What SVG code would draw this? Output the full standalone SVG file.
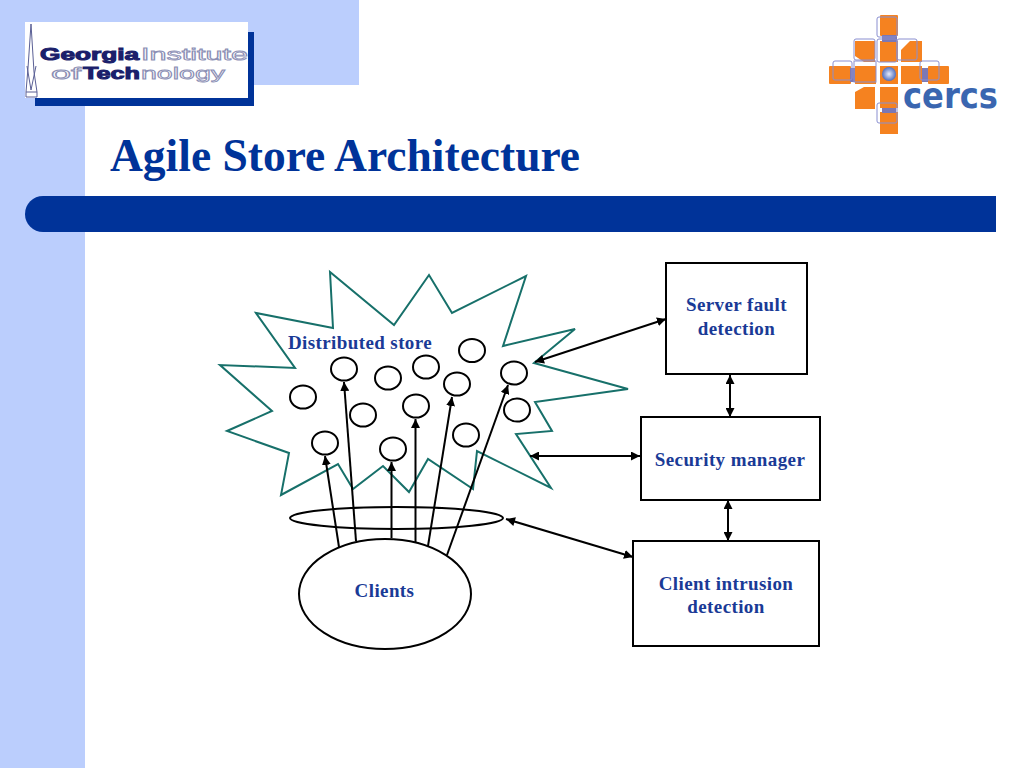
<svg xmlns="http://www.w3.org/2000/svg" width="1024" height="768" viewBox="0 0 1024 768">
<style>
.lbl{font-family:"Liberation Serif","Times New Roman",serif;font-weight:bold;font-size:19px;letter-spacing:.4px;fill:#1a3a96;text-anchor:middle}
.box{fill:#fff;stroke:#000;stroke-width:2}
.node{fill:none;stroke:#000;stroke-width:2}
.conn{stroke:#000;stroke-width:2;fill:none;marker-end:url(#ah)}
.both{marker-start:url(#ahs)}
.gt{font-family:"Liberation Sans",Arial,sans-serif;font-weight:bold;font-size:16.500px}
.solid{fill:#1b1f6b;stroke:#1b1f6b;stroke-width:1}
.hollow{fill:#fff;stroke:#8c8fb5;stroke-width:.8;font-weight:normal}
.or{fill:#f58220}
.ol{fill:none;stroke:#8a8fd0;stroke-width:1}
.mv{fill:#7b78b5}
</style>
<defs>
<marker id="ah" markerUnits="userSpaceOnUse" markerWidth="10" markerHeight="9" refX="9" refY="4.500" orient="auto"><path d="M0 0L9 4.500L0 9Z" fill="#000"/></marker>
<marker id="ahs" markerUnits="userSpaceOnUse" markerWidth="10" markerHeight="9" refX="0" refY="4.500" orient="auto"><path d="M9 0L0 4.500L9 9Z" fill="#000"/></marker>
<radialGradient id="ball"><stop offset="0" stop-color="#e8ecfa"/><stop offset="1" stop-color="#4f6fc0"/></radialGradient>
</defs>
<rect width="1024" height="768" fill="#fff"/>
<g id="background">
<rect x="0" y="0" width="85" height="768" fill="#bbcefd"/>
<rect x="0" y="0" width="359" height="85" fill="#bbcefd"/>
<path d="M996 196H43a18 18 0 0 0 0 36H996Z" fill="#003399"/>
</g>
<g id="gt-logo">
<rect x="35" y="32" width="219" height="74" fill="#003399"/>
<rect x="25" y="22" width="223" height="76" fill="#fff"/>
<path d="M31 24L34 72L37 92H26L28 68ZM26 92V97H37V92" fill="#fff" stroke="#5a5f95" stroke-width="1"/>
<path d="M27 66L31 90L36 66" fill="none" stroke="#5a5f95" stroke-width="1"/>
<text class="gt solid" x="40" y="60" textLength="99" lengthAdjust="spacingAndGlyphs">Georgia</text>
<text class="gt hollow" x="141" y="60" textLength="107" lengthAdjust="spacingAndGlyphs">Institute</text>
<text class="gt hollow" x="51" y="79" textLength="30" lengthAdjust="spacingAndGlyphs">of</text>
<text class="gt solid" x="83" y="79" textLength="57" lengthAdjust="spacingAndGlyphs">Tech</text>
<text class="gt hollow" x="141" y="79" textLength="84" lengthAdjust="spacingAndGlyphs">nology</text>
</g>
<g id="cercs-logo">
<rect class="or" x="880" y="15" width="18" height="21" rx="1"/>
<path class="or" d="M855 41H875V62H864L855 56Z"/>
<rect class="or" x="880" y="41" width="18" height="21"/>
<path class="or" d="M910 41H922V62H901V50Z"/>
<rect class="or" x="829" y="66" width="22" height="18" rx="1"/>
<rect class="or" x="855" y="66" width="21" height="18"/>
<rect class="or" x="880" y="66" width="18" height="18"/>
<rect class="or" x="901" y="66" width="21" height="18"/>
<rect class="or" x="928" y="66" width="21" height="18" rx="1"/>
<path class="or" d="M864 87H875V109H855V92Z"/>
<rect class="or" x="880" y="87" width="18" height="21"/>
<path class="or" d="M880 112H898V134H880Z"/>
<rect class="mv" x="882" y="35" width="15" height="7"/>
<rect class="mv" x="850" y="68" width="5" height="14"/>
<rect class="mv" x="922" y="68" width="6" height="14"/>
<rect class="mv" x="882" y="108" width="14" height="5"/>
<rect class="ol" x="877" y="17" width="20" height="20" rx="2"/>
<rect class="ol" x="854" y="39" width="21" height="21" rx="2"/>
<rect class="ol" x="877" y="39" width="20" height="23" rx="2"/>
<rect class="ol" x="897" y="39" width="20" height="21" rx="2"/>
<rect class="ol" x="833" y="61" width="19" height="19" rx="2"/>
<rect class="ol" x="854" y="61" width="22" height="21"/>
<rect class="ol" x="920" y="61" width="19" height="19" rx="2"/>
<rect class="ol" x="877" y="103" width="20" height="20" rx="2"/>
<circle cx="889" cy="74" r="7" fill="url(#ball)"/>
<text x="903" y="108" textLength="95" lengthAdjust="spacingAndGlyphs" style="font-family:'DejaVu Sans',sans-serif;font-weight:bold;font-size:36px;fill:#3a66b0">cercs</text>
</g>
<text id="title" x="110" y="171" style="font-family:'Liberation Serif','Times New Roman',serif;font-weight:bold;font-size:45.500px;fill:#003399">Agile Store Architecture</text>
<g id="store">
<polygon points="330,272 333,328 256,313 295,368 220,365 272,411 227,431 289,453 281,495 338,464 353,489 383,466 409,492 428,459 473,489 477,451 551,488 516,434 552,431 535,402 628,389 534,363 575,329 503,346 526,276 452,313 429,275 394,325" fill="#fff" stroke="#17706a" stroke-width="2"/>
<text class="lbl" x="360" y="349">Distributed store</text>
</g>
<g id="store-nodes">
<ellipse class="node" cx="344" cy="369" rx="13" ry="11.500"/>
<ellipse class="node" cx="472" cy="350.500" rx="13" ry="11.500"/>
<ellipse class="node" cx="388" cy="378" rx="13" ry="11.500"/>
<ellipse class="node" cx="426" cy="367" rx="13" ry="11.500"/>
<ellipse class="node" cx="457" cy="384" rx="13" ry="11.500"/>
<ellipse class="node" cx="514" cy="373" rx="13" ry="11.500"/>
<ellipse class="node" cx="303" cy="397" rx="13" ry="11.500"/>
<ellipse class="node" cx="363" cy="415" rx="13" ry="11.500"/>
<ellipse class="node" cx="416" cy="406" rx="13" ry="11.500"/>
<ellipse class="node" cx="517" cy="410" rx="13" ry="11.500"/>
<ellipse class="node" cx="466" cy="435" rx="13" ry="11.500"/>
<ellipse class="node" cx="325" cy="443" rx="13" ry="11.500"/>
<ellipse class="node" cx="393" cy="449" rx="13" ry="11.500"/>
</g>
<g id="client-ring"><ellipse class="node" cx="396.500" cy="518" rx="106.500" ry="11"/></g>
<g id="clients">
<ellipse class="node" cx="385" cy="594" rx="86" ry="55"/>
<text class="lbl" x="384.500" y="597">Clients</text>
</g>
<g id="server-fault">
<rect class="box" x="666" y="263" width="141" height="111"/>
<text class="lbl" x="736.500" y="311">Server fault</text>
<text class="lbl" x="736.500" y="335">detection</text>
</g>
<g id="security-manager">
<rect class="box" x="641" y="417" width="179" height="83"/>
<text class="lbl" x="730" y="466">Security manager</text>
</g>
<g id="client-intrusion">
<rect class="box" x="633" y="541" width="186" height="105"/>
<text class="lbl" x="726" y="590">Client intrusion</text>
<text class="lbl" x="726" y="613">detection</text>
</g>
<g id="connectors">
<line class="conn" x1="339" y1="547" x2="325" y2="456"/>
<line class="conn" x1="356" y1="541" x2="344" y2="382"/>
<line class="conn" x1="391.500" y1="538" x2="391.500" y2="462"/>
<line class="conn" x1="415.500" y1="542" x2="415.500" y2="419"/>
<line class="conn" x1="428" y1="546" x2="452" y2="397"/>
<line class="conn" x1="447" y1="555" x2="508" y2="385"/>
<line class="conn both" x1="535" y1="362" x2="666" y2="319"/>
<line class="conn both" x1="730" y1="375" x2="730" y2="417"/>
<line class="conn both" x1="530" y1="456" x2="640" y2="456"/>
<line class="conn both" x1="728" y1="500" x2="728" y2="541"/>
<line class="conn both" x1="506" y1="519" x2="633" y2="557"/>
</g>
</svg>
